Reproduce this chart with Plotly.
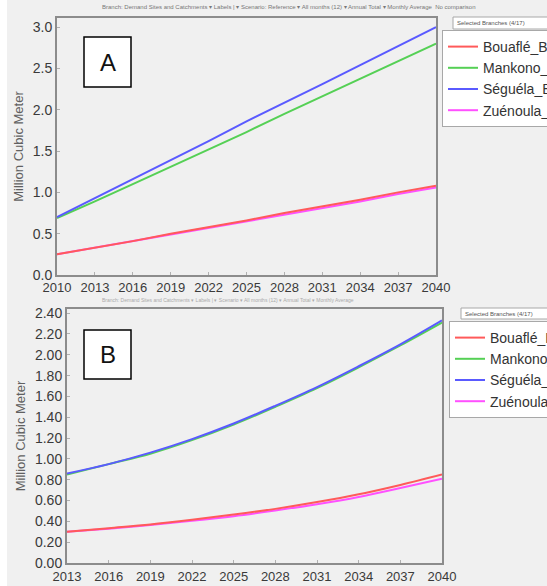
import plotly.graph_objects as go

# ---------------- data ----------------
years_a = [2010, 2013, 2016, 2019, 2022, 2025, 2028, 2031, 2034, 2037, 2040]
bouafle_a = [0.25, 0.33, 0.41, 0.50, 0.58, 0.66, 0.75, 0.83, 0.91, 1.00, 1.08]
mankono_a = [0.69, 0.89, 1.10, 1.31, 1.52, 1.73, 1.95, 2.16, 2.37, 2.58, 2.80]
seguela_a = [0.70, 0.93, 1.16, 1.39, 1.62, 1.86, 2.08, 2.31, 2.54, 2.77, 3.00]
zuenoula_a = [0.25, 0.33, 0.41, 0.49, 0.57, 0.65, 0.73, 0.81, 0.89, 0.98, 1.06]

years_b = [2013, 2016, 2019, 2022, 2025, 2028, 2031, 2034, 2037, 2040]
bouafle_b = [0.30, 0.335, 0.37, 0.415, 0.465, 0.52, 0.585, 0.66, 0.75, 0.85]
mankono_b = [0.85, 0.95, 1.05, 1.18, 1.33, 1.50, 1.68, 1.88, 2.09, 2.31]
seguela_b = [0.86, 0.95, 1.06, 1.19, 1.34, 1.51, 1.69, 1.89, 2.10, 2.33]
zuenoula_b = [0.30, 0.33, 0.365, 0.405, 0.45, 0.505, 0.565, 0.635, 0.72, 0.81]

names = ["Bouaflé_Branch", "Mankono_Branch", "Séguéla_Branch", "Zuénoula_Branch"]
colors = ["#ff5a5a", "#55d055", "#5a5aff", "#ff50ff"]

W, H = 547, 586
def px(x):
    return x / W
def py(y):
    return 1 - y / H

fig = go.Figure()

series_a = [bouafle_a, mankono_a, seguela_a, zuenoula_a]
series_b = [bouafle_b, mankono_b, seguela_b, zuenoula_b]
for i in [3, 1, 2, 0]:
    fig.add_trace(go.Scatter(x=years_a, y=series_a[i], name=names[i], mode="lines",
                             line=dict(color=colors[i], width=2), xaxis="x", yaxis="y",
                             legend="legend", legendrank=i))
for i in [3, 1, 2, 0]:
    fig.add_trace(go.Scatter(x=years_b, y=series_b[i], name=names[i], mode="lines",
                             line=dict(color=colors[i], width=2, shape="spline"),
                             xaxis="x2", yaxis="y2", legend="legend2", legendrank=i))

tickfont = dict(family="Liberation Sans, Arial", size=13, color="#3a3a3a")
ytickfont = dict(family="Liberation Sans, Arial", size=14, color="#3a3a3a")
axcommon = dict(showgrid=False, zeroline=False, showline=True, linecolor="#8c8c8c",
                linewidth=2, mirror=True, ticks="inside", ticklen=3, tickcolor="#b0b0b0",
                automargin=False)
titlefont = dict(family="Liberation Sans, Arial", size=13, color="#606060")

legstyle = dict(bgcolor="white", bordercolor="#a8a8a8", borderwidth=1,
                font=dict(family="Liberation Sans, Arial", size=14, color="#333333"),
                itemwidth=30, xanchor="left", yanchor="top", tracegroupgap=0,
                traceorder="normal")

fig.update_layout(
    width=W, height=H,
    margin=dict(l=0, r=0, t=0, b=0, autoexpand=False),
    paper_bgcolor="#f0f0f0", plot_bgcolor="#f0f0f0",
    xaxis=dict(domain=[px(57), px(436)], range=[2010, 2040], dtick=3, tick0=2010,
               anchor="y", tickangle=0, tickfont=tickfont, ticklabelstandoff=-1, **axcommon),
    yaxis=dict(domain=[py(275), py(18)], range=[0, 3.11], dtick=0.5, tickformat=".1f",
               anchor="x", tickfont=ytickfont,
               title=dict(text="Million Cubic Meter", font=titlefont, standoff=6),
               **axcommon),
    xaxis2=dict(domain=[px(67), px(442)], range=[2013, 2040], dtick=3, tick0=2013,
                anchor="y2", tickangle=0, tickfont=tickfont, ticklabelstandoff=0, **axcommon),
    yaxis2=dict(domain=[py(563), py(309)], range=[0, 2.44], dtick=0.2, tickformat=".2f",
                anchor="x2", tickfont=ytickfont,
                title=dict(text="Million Cubic Meter", font=titlefont, standoff=6),
                **axcommon),
    legend=dict(x=px(442), y=py(30), **legstyle),
    legend2=dict(x=px(449), y=py(321), **legstyle),
    showlegend=True,
)

shapes = []
annotations = []
# white strip on the left edge
shapes.append(dict(type="rect", xref="paper", yref="paper", x0=0, x1=px(7), y0=0, y1=1,
                   fillcolor="white", line=dict(width=0), layer="below"))
# "Selected Branches" header boxes
for (x0, y0, y1) in [(453, 17, 29), (461, 308, 319)]:
    shapes.append(dict(type="rect", xref="paper", yref="paper", x0=px(x0), x1=1.01,
                       y0=py(y1), y1=py(y0), fillcolor="white",
                       line=dict(color="#a8a8a8", width=1)))
    annotations.append(dict(xref="paper", yref="paper", x=px(x0 + 2), y=py((y0 + y1) / 2),
                            xanchor="left", yanchor="middle", showarrow=False,
                            text="Selected Branches (4/17)",
                            font=dict(family="Liberation Sans, Arial", size=6, color="#555555")))
# panel label boxes
for (lab, y0, y1) in [("A", 37, 87), ("B", 330, 379)]:
    shapes.append(dict(type="rect", xref="paper", yref="paper", x0=px(84), x1=px(131),
                       y0=py(y1), y1=py(y0), fillcolor="white",
                       line=dict(color="black", width=1.5)))
    annotations.append(dict(xref="paper", yref="paper", x=px(108), y=py((y0 + y1) / 2),
                            xanchor="center", yanchor="middle", showarrow=False, text=lab,
                            font=dict(family="Liberation Sans, Arial", size=24, color="#111111")))
# faint toolbar text
annotations.append(dict(xref="paper", yref="paper", x=px(100), y=py(7), xanchor="left",
                        yanchor="middle", showarrow=False,
                        text="Branch: Demand Sites and Catchments ▾ Labels | ▾ Scenario: Reference ▾ All months (12) ▾ Annual Total ▾ Monthly Average  No comparison",
                        font=dict(family="Liberation Sans, Arial", size=6, color="#777777")))
annotations.append(dict(xref="paper", yref="paper", x=px(100), y=py(300), xanchor="left",
                        yanchor="middle", showarrow=False,
                        text="Branch: Demand Sites and Catchments ▾ Labels | ▾ Scenario ▾ All months (12) ▾ Annual Total ▾ Monthly Average",
                        font=dict(family="Liberation Sans, Arial", size=5, color="#aaaaaa")))

fig.update_layout(shapes=shapes, annotations=annotations)
fig.write_html("out.html", config={"displayModeBar": False},
               post_script="document.body.style.margin='0';document.body.style.overflow='hidden';")
